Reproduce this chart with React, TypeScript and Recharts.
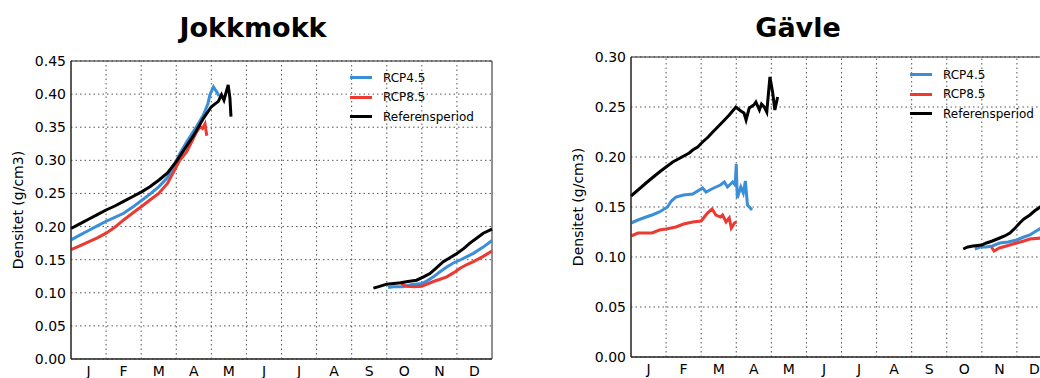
import React from 'react';
import { LineChart, Line, XAxis, YAxis, CartesianGrid, ReferenceLine, ReferenceArea, Legend } from 'recharts';

type Pt = [number, number];

const months = ['J', 'F', 'M', 'A', 'M', 'J', 'J', 'A', 'S', 'O', 'N', 'D'];
const monthMids = months.map((_, i) => i + 0.5);
const monthBounds = months.map((_, i) => i).slice(1);

const jokkTicks = [0, 0.05, 0.1, 0.15, 0.2, 0.25, 0.3, 0.35, 0.4, 0.45];
const gavleTicks = [0, 0.05, 0.1, 0.15, 0.2, 0.25, 0.3];

// Jokkmokk, x = month (0 = 1 jan, 12 = 31 dec), y = densitet g/cm3
const jokkRcp45Spring: Pt[] = [
  [0, 0.18], [0.25, 0.187], [0.5, 0.194], [0.75, 0.201], [1, 0.208], [1.25, 0.214], [1.5, 0.22],
  [1.75, 0.229], [2, 0.239], [2.25, 0.249], [2.5, 0.26], [2.75, 0.274], [2.92, 0.29], [3.1, 0.31],
  [3.3, 0.328], [3.58, 0.351], [3.77, 0.368], [3.9, 0.385], [3.96, 0.399], [4.06, 0.411],
  [4.12, 0.406], [4.15, 0.404], [4.22, 0.397],
];
const jokkRcp45Autumn: Pt[] = [
  [9.04, 0.108], [9.2, 0.109], [9.46, 0.109], [9.7, 0.112], [10, 0.114], [10.15, 0.118],
  [10.33, 0.124], [10.5, 0.131], [10.71, 0.139], [10.9, 0.145], [11.09, 0.1495], [11.3, 0.155],
  [11.47, 0.1595], [11.75, 0.169], [12, 0.179],
];
const jokkRcp85Spring: Pt[] = [
  [0, 0.165], [0.25, 0.171], [0.5, 0.177], [0.75, 0.183], [1, 0.19], [1.25, 0.199], [1.5, 0.21],
  [1.75, 0.22], [2, 0.23], [2.25, 0.24], [2.5, 0.25], [2.75, 0.265], [2.9, 0.28], [3.1, 0.3],
  [3.3, 0.313], [3.58, 0.343], [3.68, 0.351], [3.75, 0.348], [3.82, 0.355], [3.87, 0.337],
];
const jokkRcp85Autumn: Pt[] = [
  [9.38, 0.116], [9.5, 0.111], [9.57, 0.11], [9.8, 0.109], [10, 0.11], [10.15, 0.113],
  [10.33, 0.117], [10.5, 0.12], [10.71, 0.124], [10.9, 0.13], [11.09, 0.137], [11.3, 0.143],
  [11.47, 0.147], [11.75, 0.155], [12, 0.163],
];
const jokkRefSpring: Pt[] = [
  [0, 0.197], [0.25, 0.204], [0.5, 0.211], [0.75, 0.218], [1, 0.225], [1.25, 0.231], [1.5, 0.238],
  [1.75, 0.245], [2, 0.252], [2.25, 0.26], [2.5, 0.27], [2.75, 0.281], [3, 0.298], [3.25, 0.318],
  [3.5, 0.338], [3.77, 0.363], [4, 0.381], [4.2, 0.389], [4.29, 0.399], [4.36, 0.391],
  [4.48, 0.414], [4.53, 0.394], [4.56, 0.366],
];
const jokkRefAutumn: Pt[] = [
  [8.62, 0.107], [8.75, 0.109], [9, 0.113], [9.2, 0.114], [9.4, 0.115], [9.6, 0.117],
  [9.85, 0.119], [10.05, 0.124], [10.23, 0.129], [10.4, 0.137], [10.61, 0.147], [10.8, 0.153],
  [10.99, 0.159], [11.2, 0.167], [11.37, 0.175], [11.55, 0.182], [11.75, 0.19], [12, 0.196],
];

// Gävle
const gavleRcp45Spring: Pt[] = [
  [0, 0.134], [0.2, 0.137], [0.43, 0.14], [0.6, 0.142], [0.81, 0.145], [1.04, 0.15], [1.15, 0.156],
  [1.28, 0.16], [1.5, 0.162], [1.76, 0.163], [2.04, 0.169], [2.14, 0.165], [2.3, 0.168],
  [2.42, 0.17], [2.55, 0.172], [2.66, 0.175], [2.75, 0.17], [2.9, 0.175], [2.97, 0.172],
  [3.0, 0.193], [3.03, 0.159], [3.13, 0.17], [3.2, 0.164], [3.26, 0.176], [3.32, 0.152],
  [3.45, 0.147],
];
const gavleRcp45Autumn: Pt[] = [
  [9.8, 0.108], [9.95, 0.11], [10.13, 0.11], [10.3, 0.111], [10.51, 0.114], [10.75, 0.115],
  [10.99, 0.117], [11.2, 0.12], [11.37, 0.122], [11.5, 0.125], [11.7, 0.129],
];
const gavleRcp85Spring: Pt[] = [
  [0, 0.121], [0.2, 0.124], [0.43, 0.124], [0.6, 0.124], [0.81, 0.127], [1, 0.128], [1.28, 0.13],
  [1.5, 0.133], [1.76, 0.135], [2, 0.136], [2.18, 0.144], [2.31, 0.148], [2.42, 0.142],
  [2.55, 0.14], [2.61, 0.142], [2.71, 0.135], [2.8, 0.139], [2.86, 0.129], [2.95, 0.134],
  [3.01, 0.135],
];
const gavleRcp85Autumn: Pt[] = [
  [10.27, 0.11], [10.35, 0.106], [10.5, 0.109], [10.7, 0.111], [10.99, 0.114], [11.2, 0.116],
  [11.37, 0.118], [11.7, 0.119],
];
const gavleRefSpring: Pt[] = [
  [0, 0.161], [0.2, 0.167], [0.43, 0.174], [0.6, 0.179], [0.81, 0.185], [1, 0.19], [1.19, 0.195],
  [1.4, 0.199], [1.66, 0.204], [1.76, 0.207], [1.9, 0.21], [2.04, 0.215], [2.2, 0.22],
  [2.33, 0.225], [2.5, 0.231], [2.61, 0.235], [2.8, 0.242], [2.99, 0.25], [3.13, 0.246],
  [3.22, 0.244], [3.28, 0.237], [3.37, 0.249], [3.5, 0.252], [3.56, 0.255], [3.66, 0.247],
  [3.72, 0.253], [3.8, 0.25], [3.87, 0.245], [3.96, 0.28], [4.04, 0.264], [4.1, 0.247],
  [4.18, 0.26],
];
const gavleRefAutumn: Pt[] = [
  [9.47, 0.108], [9.6, 0.11], [9.75, 0.111], [10, 0.112], [10.13, 0.114], [10.3, 0.116],
  [10.51, 0.119], [10.65, 0.121], [10.8, 0.124], [10.95, 0.129], [11.08, 0.134], [11.2, 0.138],
  [11.37, 0.142], [11.5, 0.146], [11.7, 0.151],
];

const seriesNames = ['RCP4.5', 'RCP8.5', 'Referensperiod'];
const seriesColors = ['#3a8fd8', '#ea3a31', '#000000'];

const font = '"DejaVu Sans", sans-serif';

// join spring and autumn with a null so the line breaks over the summer
const toRows = (spring: Pt[], autumn: Pt[]) => [
  ...spring.map(([m, v]) => ({ m, v })),
  { m: 6, v: null },
  ...autumn.map(([m, v]) => ({ m, v })),
];

interface PanelProps {
  title: string;
  series: { spring: Pt[]; autumn: Pt[] }[];
  yMax: number;
  ticks: number[];
  left: number;
  top: number;
  titleX: number;
  labelX: number;
  legendLeft: number;
  legendTop: number;
}

const LegendBox = (props: any) => {
  const { payload } = props;
  return (
    <div style={{ fontFamily: font }}>
      {(payload || []).map((p: any) => (
        <div key={p.value} style={{ display: 'flex', alignItems: 'center', height: 19.5 }}>
          <span style={{ display: 'inline-block', width: 22, height: 3, background: p.color, marginRight: 11 }} />
          <span style={{ fontSize: 12, color: '#000', whiteSpace: 'nowrap' }}>{p.value}</span>
        </div>
      ))}
    </div>
  );
};

const Panel: React.FC<PanelProps> = ({ title, series, yMax, ticks, left, top, titleX, labelX, legendLeft, legendTop }) => {
  const plotTop = top;
  const plotBottom = 378 - (top === 61 ? 19 : 21);
  return (
    <>
      <div
        style={{
          position: 'absolute', left: titleX - 150, top: 14, width: 300, textAlign: 'center',
          fontFamily: font, fontWeight: 'bold', fontSize: 27, lineHeight: '27px', color: '#000',
        }}
      >
        {title}
      </div>
      <div
        style={{
          position: 'absolute', left: labelX - 100, top: (plotTop + plotBottom) / 2 - 7, width: 200, height: 14,
          textAlign: 'center', fontFamily: font, fontSize: 14, lineHeight: '14px', color: '#000',
          transform: 'rotate(-90deg)',
        }}
      >
        Densitet (g/cm3)
      </div>
      <div style={{ position: 'absolute', left, top: 0 }}>
        <LineChart
          width={left === 0 ? 510 : 550}
          height={378}
          margin={{ top, right: 18, bottom: top === 61 ? 3 : 5, left: left === 0 ? 26 : 66 }}
        >
          <CartesianGrid vertical={false} stroke="#555" strokeDasharray="1.5 3" />
          {monthBounds.map((b) => (
            <ReferenceLine key={b} x={b} stroke="#555" strokeDasharray="1.5 3" />
          ))}
          <XAxis
            dataKey="m"
            type="number"
            domain={[0, 12]}
            ticks={monthMids}
            interval={0}
            tickFormatter={(v: number) => months[Math.floor(v)]}
            tickLine={false}
            tickSize={5}
            tickMargin={2}
            height={16}
            axisLine={{ stroke: '#222' }}
            tick={{ fontSize: 14, fill: '#000', fontFamily: font }}
          />
          <YAxis
            type="number"
            domain={[0, yMax]}
            ticks={ticks}
            interval={0}
            tickFormatter={(v: number) => v.toFixed(2)}
            tickLine={false}
            tickSize={3}
            tickMargin={2}
            width={45}
            axisLine={{ stroke: '#222' }}
            tick={{ fontSize: 14, fill: '#000', fontFamily: font }}
          />
          <ReferenceArea x1={0} x2={12} y1={0} y2={yMax} fill="none" fillOpacity={0} stroke="#222" strokeWidth={1} />
          {series.map((s, i) => (
            <Line
              key={seriesNames[i]}
              name={seriesNames[i]}
              data={toRows(s.spring, s.autumn)}
              dataKey="v"
              type="linear"
              stroke={seriesColors[i]}
              strokeWidth={3}
              dot={false}
              activeDot={false}
              isAnimationActive={false}
            />
          ))}
          <Legend
            layout="vertical"
            align="center"
            verticalAlign="middle"
            content={<LegendBox />}
            wrapperStyle={{ left: legendLeft, top: legendTop, width: 150 }}
          />
        </LineChart>
      </div>
    </>
  );
};

export default function App() {
  return (
    <div
      style={{
        position: 'absolute', left: 0, top: 0, width: 1040, height: 378, overflow: 'hidden',
        background: '#fff', fontFamily: font,
      }}
    >
      <Panel
        title="Jokkmokk"
        series={[
          { spring: jokkRcp45Spring, autumn: jokkRcp45Autumn },
          { spring: jokkRcp85Spring, autumn: jokkRcp85Autumn },
          { spring: jokkRefSpring, autumn: jokkRefAutumn },
        ]}
        yMax={0.45}
        ticks={jokkTicks}
        left={0}
        top={61}
        titleX={253}
        labelX={18}
        legendLeft={350}
        legendTop={68}
      />
      <Panel
        title="Gävle"
        series={[
          { spring: gavleRcp45Spring, autumn: gavleRcp45Autumn },
          { spring: gavleRcp85Spring, autumn: gavleRcp85Autumn },
          { spring: gavleRefSpring, autumn: gavleRefAutumn },
        ]}
        yMax={0.3}
        ticks={gavleTicks}
        left={520}
        top={57}
        titleX={798}
        labelX={578}
        legendLeft={390}
        legendTop={65}
      />
    </div>
  );
}
